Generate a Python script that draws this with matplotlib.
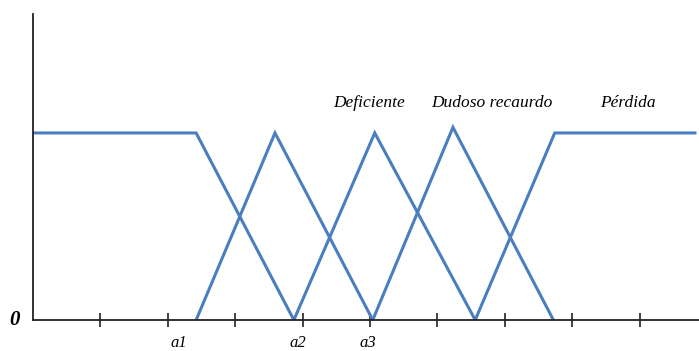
import matplotlib.pyplot as plt

# Membership functions (x in tick units, y normalised to 1)
f1_x = [0.0, 2.42, 3.87]
f1_y = [1.0, 1.0, 0.0]
f2_x = [2.42, 3.59, 5.04]
f2_y = [0.0, 1.0, 0.0]
f3_x = [3.87, 5.07, 6.56]
f3_y = [0.0, 1.0, 0.0]
f4_x = [5.04, 6.23, 7.72]
f4_y = [0.0, 1.03, 0.0]
f5_x = [6.56, 7.74, 9.82]
f5_y = [0.0, 1.0, 1.0]

tick_pos = [1, 2, 3, 4, 5, 6, 7, 8, 9]
a_labels = ['a1', 'a2', 'a3']
a_pos = [2.16, 3.93, 4.97]

region_names = ['Deficiente', 'Dudoso recaurdo', 'Pérdida']
region_x = [4.99, 6.81, 8.83]

fig = plt.figure(figsize=(6.99, 3.51), dpi=100)
ax = fig.add_axes([33/699, 31/351, 666/699, 306/351])

blue = '#4a7ebf'
for xs, ys in [(f1_x, f1_y), (f2_x, f2_y), (f3_x, f3_y), (f4_x, f4_y), (f5_x, f5_y)]:
    ax.plot(xs, ys, color=blue, lw=2.2, solid_joinstyle='miter')

ax.set_xlim(0, 9.88)
ax.set_ylim(0, 1.636)
for s in ['top', 'right']:
    ax.spines[s].set_visible(False)
for s in ['left', 'bottom']:
    ax.spines[s].set_color('#222222')
    ax.spines[s].set_linewidth(1.3)

ax.set_xticks(tick_pos)
ax.set_xticklabels([])
ax.set_yticks([])
ax.tick_params(axis='x', direction='inout', length=10, width=1.2, color='#222222')

serif = ['Liberation Serif', 'DejaVu Serif']
ax.text(-0.27, 0.0, '0', family=serif, fontsize=15, fontweight='bold', fontstyle='italic',
        ha='center', va='center', clip_on=False)
for lab, xp in zip(a_labels, a_pos):
    ax.text(xp, -0.165, lab, family=serif, fontsize=12, fontstyle='italic',
            ha='center', va='bottom', clip_on=False)
for name, xp in zip(region_names, region_x):
    ax.text(xp, 1.115, name, family=serif, fontsize=12.5, fontstyle='italic',
            ha='center', va='bottom')

fig.savefig('out.png', dpi=100)
